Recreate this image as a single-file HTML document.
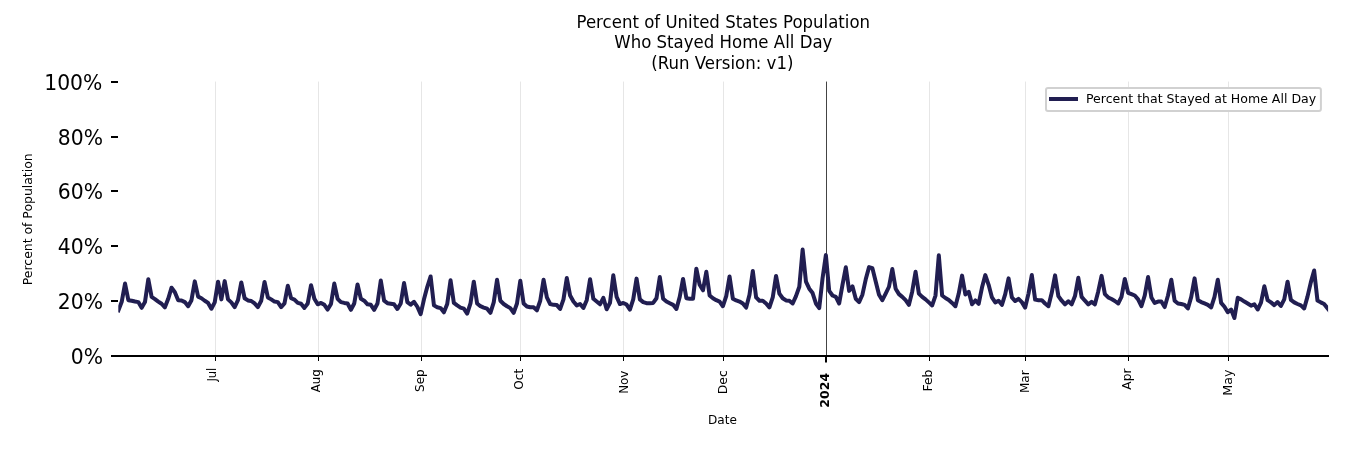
<!DOCTYPE html>
<html lang="en"><head><meta charset="utf-8"><title>Percent of United States Population Who Stayed Home All Day</title>
<style>
html,body{margin:0;padding:0;background:#fff;}
body{width:1350px;height:450px;overflow:hidden;}
svg{display:block;}
text{font-family:"DejaVu Sans","Liberation Sans",sans-serif;fill:#000;}
.title{font-size:16.67px;text-anchor:middle;}
.ytl{font-size:22.22px;text-anchor:end;}
.xtl{font-size:11.57px;text-anchor:end;}
.xtlb{font-size:12.5px;text-anchor:end;font-weight:bold;}
.lab{font-size:12.5px;text-anchor:middle;}
.leg{font-size:12.5px;}
</style></head><body>
<svg width="1350" height="450" viewBox="0 0 1350 450">
<rect width="1350" height="450" fill="#ffffff"/>
<text class="title" transform="translate(723.30,27.65) scale(0.995,1.0700)" x="0" y="0">Percent of United States Population</text>
<text class="title" transform="translate(723.30,48.10) scale(0.995,1.0700)" x="0" y="0">Who Stayed Home All Day</text>
<text class="title" transform="translate(722.30,69.25) scale(0.995,1.0700)" x="0" y="0">(Run Version: v1)</text>
<g shape-rendering="crispEdges">
<rect x="215" y="82" width="1" height="274" fill="#e6e6e6"/><rect x="215" y="81" width="1" height="1" fill="#e6e6e6" fill-opacity="0.45"/>
<rect x="318" y="82" width="1" height="274" fill="#e6e6e6"/><rect x="318" y="81" width="1" height="1" fill="#e6e6e6" fill-opacity="0.45"/>
<rect x="421" y="82" width="1" height="274" fill="#e6e6e6"/><rect x="421" y="81" width="1" height="1" fill="#e6e6e6" fill-opacity="0.45"/>
<rect x="520" y="82" width="1" height="274" fill="#e6e6e6"/><rect x="520" y="81" width="1" height="1" fill="#e6e6e6" fill-opacity="0.45"/>
<rect x="623" y="82" width="1" height="274" fill="#e6e6e6"/><rect x="623" y="81" width="1" height="1" fill="#e6e6e6" fill-opacity="0.45"/>
<rect x="723" y="82" width="1" height="274" fill="#e6e6e6"/><rect x="723" y="81" width="1" height="1" fill="#e6e6e6" fill-opacity="0.45"/>
<rect x="826" y="82" width="1" height="274" fill="#444444"/><rect x="826" y="81" width="1" height="1" fill="#444444" fill-opacity="0.45"/>
<rect x="929" y="82" width="1" height="274" fill="#e6e6e6"/><rect x="929" y="81" width="1" height="1" fill="#e6e6e6" fill-opacity="0.45"/>
<rect x="1025" y="82" width="1" height="274" fill="#e6e6e6"/><rect x="1025" y="81" width="1" height="1" fill="#e6e6e6" fill-opacity="0.45"/>
<rect x="1128" y="82" width="1" height="274" fill="#e6e6e6"/><rect x="1128" y="81" width="1" height="1" fill="#e6e6e6" fill-opacity="0.45"/>
<rect x="1228" y="82" width="1" height="274" fill="#e6e6e6"/><rect x="1228" y="81" width="1" height="1" fill="#e6e6e6" fill-opacity="0.45"/>
</g>
<clipPath id="axclip"><rect x="118.30" y="82.00" width="1209.80" height="274.00"/></clipPath>
<polyline clip-path="url(#axclip)" fill="none" stroke="#211e51" stroke-width="4.0" stroke-linejoin="round" stroke-linecap="square" points="118.40,310.32 121.72,301.82 125.04,283.57 128.36,300.18 131.69,300.73 135.01,301.55 138.33,302.10 141.65,307.85 144.97,302.10 148.29,279.19 151.62,296.89 154.94,299.08 158.26,301.55 161.58,303.74 164.90,307.33 168.22,298.81 171.54,287.68 174.87,292.23 178.19,300.18 181.51,300.45 184.83,302.10 188.15,306.23 191.47,300.18 194.79,281.38 198.12,296.62 201.44,298.26 204.76,300.73 208.08,302.92 211.40,308.70 214.72,302.37 218.05,281.66 221.37,299.36 224.69,281.11 228.01,299.36 231.33,302.37 234.65,307.06 237.97,300.18 241.30,282.48 244.62,298.26 247.94,300.45 251.26,301.00 254.58,303.47 257.90,307.06 261.22,300.73 264.55,281.93 267.87,297.44 271.19,299.36 274.51,301.55 277.83,302.10 281.15,307.06 284.48,303.47 287.80,285.77 291.12,298.26 294.44,299.63 297.76,302.92 301.08,303.74 304.40,307.88 307.73,303.47 311.05,285.22 314.37,298.81 317.69,304.32 321.01,302.92 324.33,304.84 327.65,309.52 330.98,304.01 334.30,283.57 337.62,298.81 340.94,302.10 344.26,302.92 347.58,303.47 350.90,309.80 354.23,303.47 357.55,284.40 360.87,298.81 364.19,300.73 367.51,304.29 370.83,304.84 374.16,309.80 377.48,303.47 380.80,280.56 384.12,300.73 387.44,303.19 390.76,303.74 394.08,304.29 397.41,308.97 400.73,303.47 404.05,283.03 407.37,302.10 410.69,304.59 414.01,301.82 417.34,306.75 420.66,314.18 423.98,299.36 427.30,286.75 430.62,276.45 433.94,305.38 437.26,307.30 440.59,308.12 443.91,312.26 447.23,304.01 450.55,280.29 453.87,302.92 457.19,305.38 460.51,307.58 463.84,308.67 467.16,313.63 470.48,303.47 473.80,281.66 477.12,303.47 480.44,306.21 483.76,307.58 487.09,308.67 490.41,312.81 493.73,302.37 497.05,279.74 500.37,300.73 503.69,304.01 507.02,306.21 510.34,308.12 513.66,312.81 516.98,303.47 520.30,280.83 523.62,303.47 526.94,306.48 530.27,307.30 533.59,307.30 536.91,310.34 540.23,300.73 543.55,279.74 546.87,297.44 550.19,304.01 553.52,304.84 556.84,305.11 560.16,308.97 563.48,299.36 566.80,278.09 570.12,295.52 573.45,301.55 576.77,305.41 580.09,304.01 583.41,307.88 586.73,300.18 590.05,279.19 593.37,298.81 596.70,301.55 600.02,304.32 603.34,297.82 606.66,309.25 609.98,302.92 613.30,275.35 616.62,296.89 619.95,304.04 623.27,302.92 626.59,304.56 629.91,309.52 633.23,299.36 636.55,278.64 639.88,299.36 643.20,302.10 646.52,303.19 649.84,303.19 653.16,302.92 656.48,298.26 659.80,277.00 663.13,298.81 666.45,301.55 669.77,303.19 673.09,304.84 676.41,308.97 679.73,296.89 683.05,278.92 686.38,298.26 689.70,298.81 693.02,298.81 696.34,268.78 699.66,284.83 702.98,290.34 706.31,271.79 709.63,295.52 712.95,298.26 716.27,300.18 719.59,301.55 722.91,306.23 726.23,296.07 729.56,276.45 732.88,298.81 736.20,300.45 739.52,301.55 742.84,303.47 746.16,307.60 749.49,294.70 752.81,270.97 756.13,297.44 759.45,300.73 762.77,300.73 766.09,303.47 769.41,307.33 772.74,297.44 776.06,275.90 779.38,293.60 782.70,298.26 786.02,300.45 789.34,300.73 792.66,303.49 795.99,296.07 799.31,286.75 802.63,249.60 805.95,281.55 809.27,288.67 812.59,293.05 815.91,303.47 819.24,308.15 822.56,278.26 825.88,255.13 829.20,290.86 832.52,295.52 835.84,296.89 839.17,303.49 842.49,284.83 845.81,267.27 849.13,290.89 852.45,286.31 855.77,298.81 859.09,302.12 862.42,294.70 865.74,279.35 869.06,267.13 872.38,268.12 875.70,281.55 879.02,294.70 882.34,300.21 885.67,293.60 888.99,286.75 892.31,269.05 895.63,288.67 898.95,294.15 902.27,296.89 905.60,300.18 908.92,304.86 912.24,291.41 915.56,271.79 918.88,293.60 922.20,296.89 925.52,299.36 928.85,302.37 932.17,305.41 935.49,295.52 938.81,255.35 942.13,295.52 945.45,297.99 948.77,299.90 952.10,302.92 955.42,306.23 958.74,293.60 962.06,275.63 965.38,294.45 968.70,291.79 972.03,304.32 975.35,300.45 978.67,303.77 981.99,287.57 985.31,275.08 988.63,284.83 991.95,297.44 995.28,302.40 998.60,300.73 1001.92,304.86 1005.24,294.15 1008.56,278.37 1011.88,297.44 1015.20,301.03 1018.53,298.81 1021.85,302.10 1025.17,307.60 1028.49,293.60 1031.81,275.08 1035.13,299.63 1038.46,300.18 1041.78,300.18 1045.10,303.47 1048.42,306.23 1051.74,292.78 1055.06,275.35 1058.38,296.07 1061.71,300.73 1065.03,304.32 1068.35,301.27 1071.67,304.32 1074.99,296.07 1078.31,277.82 1081.63,296.89 1084.96,300.73 1088.28,304.32 1091.60,301.82 1094.92,304.32 1098.24,291.41 1101.56,275.90 1104.89,294.15 1108.21,297.44 1111.53,299.08 1114.85,301.00 1118.17,303.49 1121.49,296.89 1124.81,278.92 1128.14,292.78 1131.46,294.15 1134.78,295.52 1138.10,299.36 1141.42,306.23 1144.74,295.52 1148.07,277.00 1151.39,297.44 1154.71,302.95 1158.03,301.55 1161.35,301.55 1164.67,307.06 1167.99,295.52 1171.32,279.74 1174.64,300.73 1177.96,303.47 1181.28,304.01 1184.60,304.84 1187.92,308.43 1191.24,296.89 1194.57,278.37 1197.89,300.18 1201.21,302.10 1204.53,303.47 1207.85,304.84 1211.17,307.33 1214.50,296.89 1217.82,279.74 1221.14,302.92 1224.46,306.75 1227.78,312.26 1231.10,309.60 1234.42,318.02 1237.75,297.82 1241.07,299.36 1244.39,301.55 1247.71,303.47 1251.03,305.69 1254.35,304.29 1257.67,309.52 1261.00,302.64 1264.32,286.31 1267.64,300.18 1270.96,302.37 1274.28,305.14 1277.60,302.10 1280.92,305.96 1284.25,299.36 1287.57,281.66 1290.89,299.90 1294.21,302.37 1297.53,304.01 1300.85,305.38 1304.18,308.43 1307.50,296.62 1310.82,282.37 1314.14,270.42 1317.46,300.45 1320.78,302.37 1324.10,304.01 1327.43,308.12 1330.43,311.84"/>
<g shape-rendering="crispEdges">
<rect x="117" y="355" width="1212" height="2" fill="#000"/>
<rect x="111" y="355" width="7" height="2" fill="#000"/>
<rect x="111" y="300" width="7" height="2" fill="#000"/>
<rect x="111" y="245" width="7" height="2" fill="#000"/>
<rect x="111" y="190" width="7" height="2" fill="#000"/>
<rect x="111" y="136" width="7" height="2" fill="#000"/>
<rect x="111" y="81" width="7" height="2" fill="#000"/>
<rect x="215" y="356" width="1" height="5" fill="#000"/>
<rect x="318" y="356" width="1" height="5" fill="#000"/>
<rect x="421" y="356" width="1" height="5" fill="#000"/>
<rect x="520" y="356" width="1" height="5" fill="#000"/>
<rect x="623" y="356" width="1" height="5" fill="#000"/>
<rect x="723" y="356" width="1" height="5" fill="#000"/>
<rect x="825" y="356" width="2" height="6.5" fill="#000" shape-rendering="auto"/>
<rect x="929" y="356" width="1" height="5" fill="#000"/>
<rect x="1025" y="356" width="1" height="5" fill="#000"/>
<rect x="1128" y="356" width="1" height="5" fill="#000"/>
<rect x="1228" y="356" width="1" height="5" fill="#000"/>
</g>
<text class="ytl" transform="translate(103.00,363.60) scale(0.9150,0.9300)" x="0" y="0">0%</text>
<text class="ytl" transform="translate(103.00,308.60) scale(0.9150,0.9300)" x="0" y="0">20%</text>
<text class="ytl" transform="translate(103.00,253.60) scale(0.9150,0.9300)" x="0" y="0">40%</text>
<text class="ytl" transform="translate(103.00,198.60) scale(0.9150,0.9300)" x="0" y="0">60%</text>
<text class="ytl" transform="translate(103.00,144.60) scale(0.9150,0.9300)" x="0" y="0">80%</text>
<text class="ytl" transform="translate(102.30,89.60) scale(0.9150,0.9300)" x="0" y="0">100%</text>
<text class="xtl" transform="translate(215.90,367.70) rotate(-90) scale(0.9900,1.0700)" x="0" y="0">Jul</text>
<text class="xtl" transform="translate(319.60,369.30) rotate(-90) scale(1.0200,1.0700)" x="0" y="0">Aug</text>
<text class="xtl" transform="translate(423.80,369.30) rotate(-90) scale(1.0400,1.0700)" x="0" y="0">Sep</text>
<text class="xtl" transform="translate(523.10,368.70) rotate(-90) scale(1.0500,1.0700)" x="0" y="0">Oct</text>
<text class="xtl" transform="translate(627.80,370.60) rotate(-90) scale(1.0300,1.0700)" x="0" y="0">Nov</text>
<text class="xtl" transform="translate(727.10,370.20) rotate(-90) scale(1.0750,1.0700)" x="0" y="0">Dec</text>
<text class="xtlb" transform="translate(829.20,372.90) rotate(-90) scale(1.0000,1.0300)" x="0" y="0">2024</text>
<text class="xtl" transform="translate(932.40,369.60) rotate(-90) scale(1.0700,1.0000)" x="0" y="0">Feb</text>
<text class="xtl" transform="translate(1029.20,370.20) rotate(-90) scale(1.0500,1.0700)" x="0" y="0">Mar</text>
<text class="xtl" transform="translate(1131.10,368.60) rotate(-90) scale(1.0550,1.0700)" x="0" y="0">Apr</text>
<text class="xtl" transform="translate(1232.00,369.50) rotate(-90) scale(1.0950,1.0700)" x="0" y="0">May</text>
<text class="lab" transform="translate(722.45,423.9) scale(0.967,1.04)" x="0" y="0">Date</text>
<text class="lab" transform="translate(31.6,219.3) rotate(-90) scale(0.995,1.05)" x="0" y="0">Percent of Population</text>
<rect x="1046" y="87.9" width="274.9" height="23" rx="2" ry="2" fill="#ffffff" fill-opacity="0.95" stroke="#d1d1d1" stroke-width="2"/>
<rect x="1049" y="97" width="29" height="4" fill="#211e51" shape-rendering="crispEdges"/>
<text class="leg" transform="translate(1085.95,103.4) scale(1.0046,1.03)" x="0" y="0">Percent that Stayed at Home All Day</text>
</svg>
</body></html>
